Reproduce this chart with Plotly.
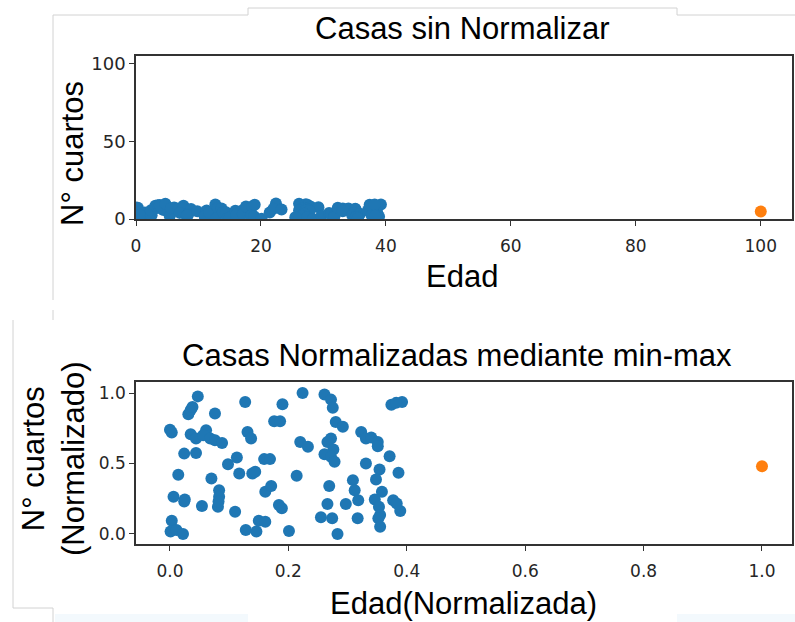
import plotly.graph_objects as go

# ---- data ----
edad = [0.0, 0.3, 0.3, 0.1, 1.1, 2.2, 1.4, 0.6, 2.5, 2.4, 2.4, 4.4, 3.5, 4.4, 3.1, 3.5, 3.8, 4.7,
        5.4, 6.1, 5.6, 6.8, 7.6, 7.6, 8.8, 7.0, 8.3, 8.3, 8.1, 8.2, 9.8, 11.3, 11.0, 11.7, 12.7,
        13.1, 13.7, 12.8, 13.9, 14.4, 14.6, 15.0, 16.1, 15.9, 16.9, 16.1, 17.1, 17.6, 18.6, 19.0,
        18.4, 18.9, 20.1, 21.4, 22.4, 22.0, 23.3, 26.1, 27.2, 27.5, 28.0, 29.2, 27.2, 26.6, 27.6,
        26.1, 27.2, 27.8, 26.9, 26.6, 25.5, 27.4, 28.3, 29.7, 30.9, 31.2, 31.8, 31.7, 32.3, 33.1,
        34.0, 33.1, 35.1, 35.1, 35.4, 34.8, 35.8, 34.6, 35.3, 35.5, 35.2, 35.5, 37.1, 37.7, 37.4,
        38.6, 39.2, 38.2, 38.9, 38.3]
cuartos = [7.40, 7.20, 0.94, 0.17, 0.28, 0.00, 4.20, 2.64, 2.45, 2.30, 5.70, 5.75, 7.08, 6.77,
           8.50, 8.80, 9.00, 9.76, 1.98, 7.36, 7.00, 6.77, 8.54, 6.65, 6.46, 3.94, 3.11, 2.64,
           1.93, 2.30, 4.95, 5.42, 1.58, 4.29, 9.36, 7.24, 6.77, 0.28, 4.29, 4.41, 0.17, 0.94,
           0.87, 5.31, 5.31, 3.00, 3.40, 8.00, 8.00, 9.20, 2.05, 1.82, 0.21, 4.13, 10.00, 6.53,
           6.18, 9.90, 9.53, 8.96, 7.95, 7.60, 6.77, 6.53, 6.00, 5.66, 5.47, 5.12, 3.40, 2.12,
           1.18, 1.11, 0.00, 2.12, 3.82, 3.11, 2.40, 1.11, 7.24, 6.77, 6.84, 5.00, 6.53, 6.23,
           4.58, 3.87, 3.00, 2.45, 1.93, 1.34, 1.11, 0.52, 5.52, 2.40, 9.17, 4.34, 9.36, 9.30,
           1.63, 2.17]
outlier_edad = [100.0]
outlier_cuartos = [4.8]

all_e = edad + outlier_edad
all_c = cuartos + outlier_cuartos
e_min, e_max = min(all_e), max(all_e)
c_min, c_max = min(all_c), max(all_c)
edad_n = [(v - e_min) / (e_max - e_min) for v in edad]
cuartos_n = [(v - c_min) / (c_max - c_min) for v in cuartos]
out_edad_n = [(v - e_min) / (e_max - e_min) for v in outlier_edad]
out_cuartos_n = [(v - c_min) / (c_max - c_min) for v in outlier_cuartos]

top_xticks = [0, 20, 40, 60, 80, 100]
top_yticks = [0, 50, 100]
bot_xticks = [0.0, 0.2, 0.4, 0.6, 0.8, 1.0]
bot_xtick_labels = ["0.0", "0.2", "0.4", "0.6", "0.8", "1.0"]
bot_yticks = [0.0, 0.5, 1.0]
bot_ytick_labels = ["0.0", "0.5", "1.0"]

BLUE = "#1f77b4"
ORANGE = "#ff7f0e"
W, H = 795, 622

def px(x):
    return x / W

def py(y):
    return 1 - y / H

fig = go.Figure()
fig.add_trace(go.Scatter(x=edad, y=cuartos, mode="markers",
                         marker=dict(color=BLUE, size=12), xaxis="x", yaxis="y", showlegend=False))
fig.add_trace(go.Scatter(x=outlier_edad, y=outlier_cuartos, mode="markers",
                         marker=dict(color=ORANGE, size=12), xaxis="x", yaxis="y", showlegend=False))
fig.add_trace(go.Scatter(x=edad_n, y=cuartos_n, mode="markers",
                         marker=dict(color=BLUE, size=12), xaxis="x2", yaxis="y2", showlegend=False))
fig.add_trace(go.Scatter(x=out_edad_n, y=out_cuartos_n, mode="markers",
                         marker=dict(color=ORANGE, size=12), xaxis="x2", yaxis="y2", showlegend=False))

axis_common = dict(showline=True, mirror=True, linecolor="#333333", linewidth=1.5,
                   showgrid=False, zeroline=False, ticks="outside", ticklen=5, tickwidth=1.3,
                   tickcolor="#333333", automargin=False,
                   tickfont=dict(family="DejaVu Sans", size=17, color="#262626"))

fig.update_layout(
    width=W, height=H, margin=dict(l=0, r=0, t=0, b=0, autoexpand=False),
    paper_bgcolor="white", plot_bgcolor="white",
    xaxis=dict(domain=[px(136), px(792)], anchor="y", range=[0, 105],
               tickvals=top_xticks, ticklabelstandoff=6, **axis_common),
    yaxis=dict(domain=[py(219), py(56)], anchor="x", range=[0, 105],
               tickvals=top_yticks, **{**axis_common,
                                       "tickfont": dict(family="DejaVu Sans", size=18, color="#262626")}),
    xaxis2=dict(domain=[px(136), px(792)], anchor="y2", range=[-0.0574, 1.0507],
                tickvals=bot_xticks, ticktext=bot_xtick_labels, ticklabelstandoff=6, **axis_common),
    yaxis2=dict(domain=[py(544), py(382)], anchor="x2", range=[-0.071, 1.078],
                tickvals=bot_yticks, ticktext=bot_ytick_labels, **axis_common),
)

TFONT = "Liberation Sans, Arial, sans-serif"
ann = [
    ("Casas sin Normalizar", 462, 29, 0, 31),
    ("Edad", 462, 276, 0, 31),
    ("N° cuartos", 73, 154, -90, 31),
    ("Casas Normalizadas mediante min-max", 457, 355, 0, 31),
    ("Edad(Normalizada)", 463, 603, 0, 31),
    ("N° cuartos<br>(Normalizado)", 54, 459, -90, 31),
]
for text, x, y, ang, size in ann:
    fig.add_annotation(text=text, x=px(x), y=py(y), xref="paper", yref="paper",
                       xanchor="center", yanchor="middle", showarrow=False, textangle=ang,
                       font=dict(family=TFONT, size=size, color="black"))

# faint screenshot frame lines
GREY = "#d2d2d2"
lines = [
    (53, 15, 53, 300), (53, 15, 248, 15), (248, 8, 248, 15), (248, 8, 677, 8),
    (677, 8, 677, 15), (677, 15, 795, 15),
    (53, 310, 53, 320), (13, 320, 13, 608), (13, 608, 53, 608), (53, 608, 53, 622),
]
for x0, y0, x1, y1 in lines:
    fig.add_shape(type="line", xref="paper", yref="paper", x0=px(x0), y0=py(y0),
                  x1=px(x1), y1=py(y1), line=dict(color=GREY, width=1), layer="below")
for x0, x1 in [(55, 248), (677, 795)]:
    fig.add_shape(type="rect", xref="paper", yref="paper", x0=px(x0), x1=px(x1),
                  y0=py(622), y1=py(614), line=dict(width=0), fillcolor="#f3f9fd", layer="below")

fig.write_html("out.html")
